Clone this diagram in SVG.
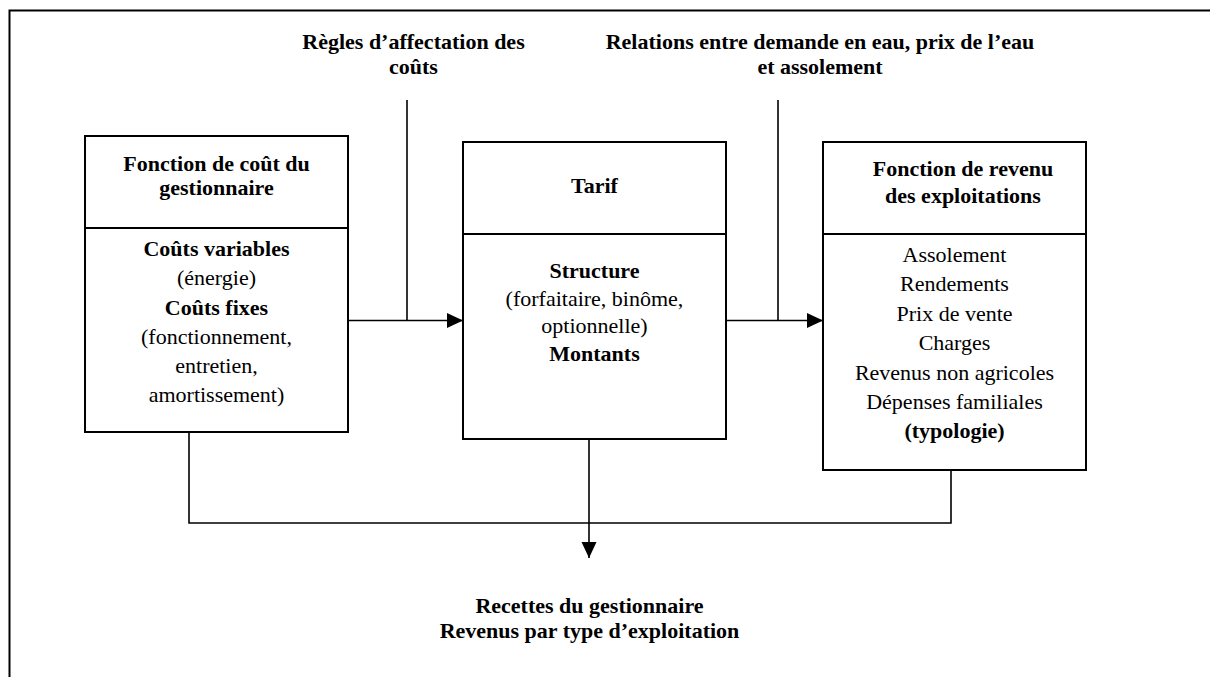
<svg xmlns="http://www.w3.org/2000/svg" width="1210" height="677" viewBox="0 0 1210 677" font-family="'Liberation Serif', 'Times New Roman', Times, 'DejaVu Serif', serif">
<style>
text{font-family:"Liberation Serif","Times New Roman",Times,"DejaVu Serif",serif;font-size:22px;fill:#000;text-anchor:middle}
.b{font-weight:bold}
.box{fill:#fff;stroke:#000;stroke-width:2}
.ln{fill:none;stroke:#000;stroke-width:1.6}
</style>
<defs>
<marker id="arr" markerUnits="userSpaceOnUse" markerWidth="16" markerHeight="16" refX="16" refY="8" orient="auto">
<path d="M0,0.5 L16,8 L0,15.5 Z" fill="#000"/>
</marker>
</defs>
<rect x="0" y="0" width="1210" height="677" fill="#fff"/>
<rect x="9.5" y="10.5" width="1220" height="700" fill="none" stroke="#000" stroke-width="2"/>

<g id="connectors">
<line class="ln" x1="407" y1="100" x2="407" y2="320.5"/>
<line class="ln" x1="348" y1="320.5" x2="463" y2="320.5" marker-end="url(#arr)"/>
<line class="ln" x1="778" y1="100" x2="778" y2="320.5"/>
<line class="ln" x1="726" y1="320.5" x2="823" y2="320.5" marker-end="url(#arr)"/>
<polyline class="ln" points="189,432 189,523 951,523 951,470"/>
<line class="ln" x1="589" y1="439" x2="589" y2="558" marker-end="url(#arr)"/>
</g>

<g id="label-regles">
<text class="b" x="413.5" y="49">Règles d’affectation des</text>
<text class="b" x="413.5" y="74">coûts</text>
</g>

<g id="label-relations">
<text class="b" x="820" y="49">Relations entre demande en eau, prix de l’eau</text>
<text class="b" x="820" y="74">et assolement</text>
</g>

<g id="node-cout">
<rect class="box" x="85" y="136" width="263" height="296"/>
<line class="box" x1="85" y1="228" x2="348" y2="228"/>
<text class="b" x="216.5" y="171">Fonction de coût du</text>
<text class="b" x="216.5" y="195">gestionnaire</text>
<text class="b" x="216.5" y="256">Coûts variables</text>
<text x="216.5" y="285">(énergie)</text>
<text class="b" x="216.5" y="315">Coûts fixes</text>
<text x="216.5" y="344">(fonctionnement,</text>
<text x="216.5" y="373">entretien,</text>
<text x="216.5" y="402">amortissement)</text>
</g>

<g id="node-tarif">
<rect class="box" x="463" y="142" width="263" height="297"/>
<line class="box" x1="463" y1="234" x2="726" y2="234"/>
<text class="b" x="594.5" y="193">Tarif</text>
<text class="b" x="594.5" y="278">Structure</text>
<text x="594.5" y="306">(forfaitaire, binôme,</text>
<text x="594.5" y="333">optionnelle)</text>
<text class="b" x="594.5" y="361">Montants</text>
</g>

<g id="node-revenu">
<rect class="box" x="823" y="142" width="263" height="328"/>
<line class="box" x1="823" y1="234" x2="1086" y2="234"/>
<text class="b" x="963" y="176">Fonction de revenu</text>
<text class="b" x="963" y="203">des exploitations</text>
<text x="954.5" y="262">Assolement</text>
<text x="954.5" y="291">Rendements</text>
<text x="954.5" y="321">Prix de vente</text>
<text x="954.5" y="350">Charges</text>
<text x="954.5" y="380">Revenus non agricoles</text>
<text x="954.5" y="409">Dépenses familiales</text>
<text class="b" x="954.5" y="438">(typologie)</text>
</g>

<g id="label-resultats">
<text class="b" x="589.5" y="613">Recettes du gestionnaire</text>
<text class="b" x="589.5" y="638">Revenus par type d’exploitation</text>
</g>
</svg>
